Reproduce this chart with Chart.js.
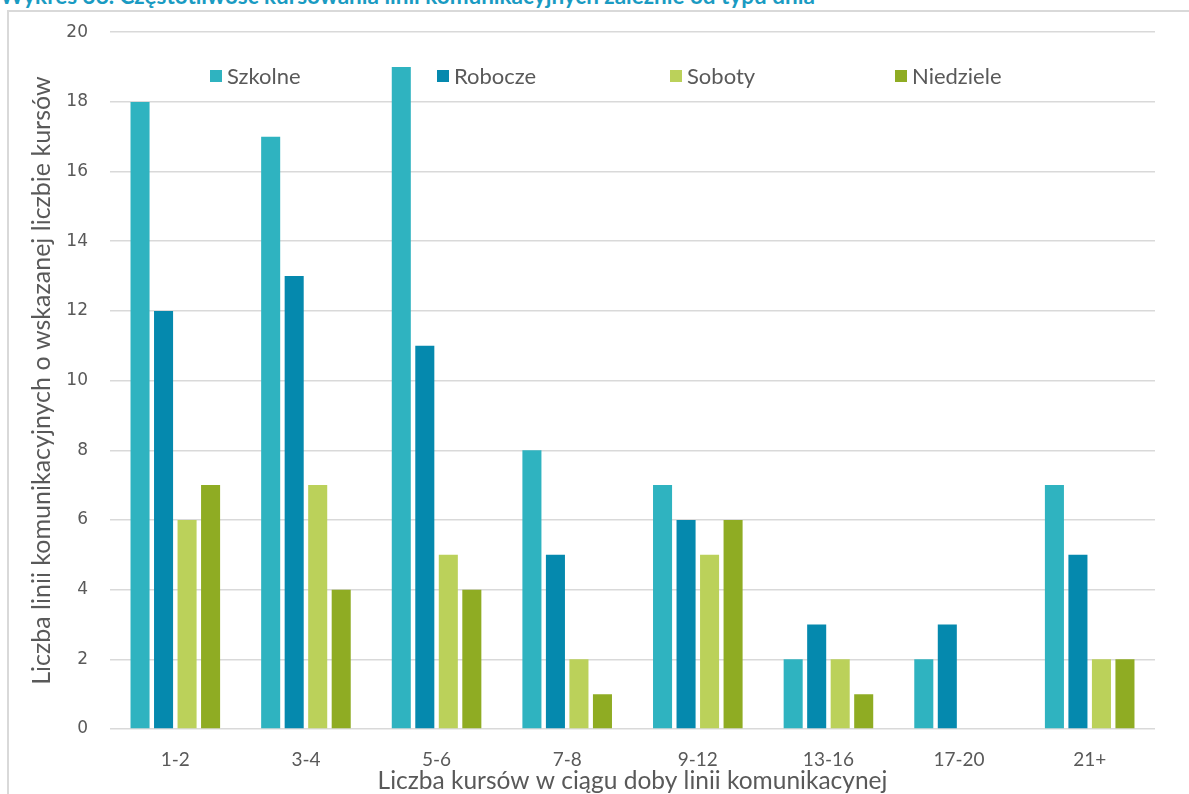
<!DOCTYPE html>
<html>
<head>
<meta charset="utf-8">
<script src="https://cdn.jsdelivr.net/npm/chart.js@4.4.1/dist/chart.umd.min.js"></script>
<style>
  html, body { margin: 0; padding: 0; background: #fff; overflow: hidden; }
  #wrap { position: relative; width: 1189px; height: 794px; }
  #frame { position: absolute; left: 7px; top: 10px; width: 1200px; height: 800px; border: 2px solid #d9d9d9; box-sizing: border-box; }
  #title { position: absolute; left: 0; top: -18px; font-family: Lato, sans-serif; font-weight: bold; font-size: 22.5px; color: #1a9bc2; white-space: nowrap; }
  canvas { position: absolute; left: 0; top: 0; }
</style>
</head>
<body>
<div id="wrap">
  <div id="frame"></div>
  <div id="title">Wykres 38. Częstotliwość kursowania linii komunikacyjnych zależnie od typu dnia</div>
  <canvas id="c" width="1189" height="794"></canvas>
</div>
<script>
const categories = ['1-2', '3-4', '5-6', '7-8', '9-12', '13-16', '17-20', '21+'];
const seriesNames = ['Szkolne', 'Robocze', 'Soboty', 'Niedziele'];
const szkolne   = [18, 17, 19, 8, 7, 2, 2, 7];
const robocze   = [12, 13, 11, 5, 6, 3, 3, 5];
const soboty    = [6, 7, 5, 2, 5, 2, 0, 2];
const niedziele = [7, 4, 4, 1, 6, 1, 0, 2];
const yTicks = [0, 2, 4, 6, 8, 10, 12, 14, 16, 18, 20];
const xTitle = 'Liczba kursów w ciągu doby linii komunikacynej';
const yTitle = 'Liczba linii komunikacyjnych o wskazanej liczbie kursów';

const colors = ['#2fb3c0', '#0589ae', '#bbd15a', '#8fac23'];
const values = [szkolne, robocze, soboty, niedziele];

const legendPlugin = {
  id: 'inLegend',
  afterDraw(chart) {
    const ctx = chart.ctx;
    const xs = [210, 437, 670, 895];
    const y = 76;
    ctx.save();
    ctx.font = '22px Lato, sans-serif';
    ctx.textBaseline = 'middle';
    ctx.textAlign = 'left';
    seriesNames.forEach((n, i) => {
      ctx.fillStyle = colors[i];
      ctx.fillRect(xs[i], y - 6, 12, 12);
      ctx.fillStyle = '#595959';
      ctx.fillText(n, xs[i] + 17, y + 1);
    });
    ctx.restore();
  }
};

new Chart(document.getElementById('c'), {
  type: 'bar',
  data: {
    labels: categories,
    datasets: seriesNames.map((n, i) => ({
      label: n,
      data: values[i],
      backgroundColor: colors[i],
      borderWidth: 0,
      barPercentage: 0.81,
      categoryPercentage: 0.72
    }))
  },
  options: {
    responsive: false,
    animation: false,
    layout: { padding: { left: 27, right: 34, top: 31, bottom: 0 } },
    plugins: { legend: { display: false }, tooltip: { enabled: false } },
    scales: {
      x: {
        grid: { display: false, drawTicks: false },
        border: { display: false },
        ticks: { color: '#595959', font: { family: 'Lato, sans-serif', size: 19 }, padding: 19 },
        title: { display: true, text: xTitle, color: '#595959', font: { family: 'Lato, sans-serif', size: 24.5 }, padding: { top: 0, bottom: -2 } },
        afterFit(s) { s.height = 65; }
      },
      y: {
        min: 0, max: 20,
        afterBuildTicks(s) { s.ticks = yTicks.map(v => ({ value: v })); },
        grid: { color: '#d9d9d9', lineWidth: 1.5, drawTicks: false },
        border: { display: false },
        ticks: { color: '#595959', font: { family: 'DejaVu Sans, sans-serif', size: 17 }, padding: 22 },
        title: { display: true, text: yTitle, color: '#595959', font: { family: 'Lato, sans-serif', size: 25 }, padding: { top: 0, bottom: 0 } },
        afterFit(s) { s.width = 83; }
      }
    }
  },
  plugins: [legendPlugin]
});
</script>
</body>
</html>
